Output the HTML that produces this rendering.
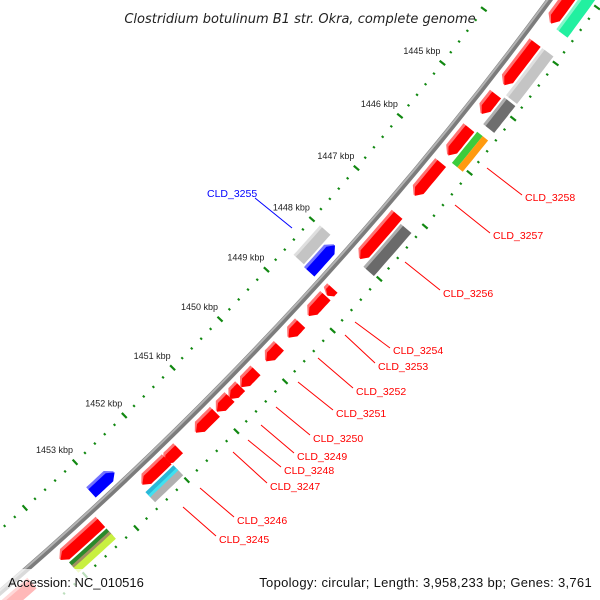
<!DOCTYPE html>
<html><head><meta charset="utf-8"><style>
html,body{margin:0;padding:0;background:#fff;overflow:hidden;}
svg{display:block;font-family:"Liberation Sans",sans-serif;}
</style></head><body>
<svg id="map" width="600" height="600" viewBox="0 0 600 600" xmlns="http://www.w3.org/2000/svg">
<g id="ticks"></g>
<g id="backbone"></g>
<g id="features"></g>
<g id="labels"></g>
<rect x="0" y="569" width="600" height="31" fill="rgba(255,255,255,0.72)"/>
<text x="300" y="23" text-anchor="middle" font-size="13" font-style="italic" fill="#222" style="font-family:'DejaVu Sans',sans-serif">Clostridium botulinum B1 str. Okra, complete genome</text>
<text x="8" y="587" font-size="13" fill="#111">Accession: NC_010516</text>
<text x="592" y="587" text-anchor="end" font-size="13" fill="#111" letter-spacing="0.3">Topology: circular; Length: 3,958,233 bp; Genes: 3,761</text>
</svg>
<script>
const CX=-2312, CY=-2103, R=3551;
const A0=38.18, K0=1445, DPK=1.11;
const tickKbp=[1445,1446,1447,1448,1449,1450,1451,1452,1453];
const tickLabels=["1445 kbp","1446 kbp","1447 kbp","1448 kbp","1449 kbp","1450 kbp","1451 kbp","1452 kbp","1453 kbp"];
const featStart=[1442.9,1443.94,1444.88,1445.5,1446.15,1447.13,1448.55,1448.7,1449.24,1449.69,1450.18,1450.5,1450.72,1451.02,1451.77,1452.0,1453.32,1454.65,
 1442.9,1443.94,1444.84,1445.47,1445.47,1447.2,1451.99,1451.99,1451.99,1453.32,1453.32,1453.32,
 1447.99,1448.06,1452.68];
const featEnd=[1443.58,1444.7,1445.23,1446.0,1446.76,1447.97,1448.68,1449.08,1449.51,1449.98,1450.5,1450.74,1451.0,1451.43,1452.07,1452.51,1454.12,1455.5,
 1443.6,1444.8,1445.33,1446.05,1446.05,1448.02,1452.55,1452.55,1452.55,1454.05,1454.05,1454.05,
 1448.57,1448.6,1453.13];
const featRing=["outA","outA","outA","outA","outA","outA","outA","outA","outA","outA","outA","outA","outA","outA","outA","outA","outA","outA",
 "outB","outB","outB","outB1","outB2","outB","outB1","outBm","outB2","outB1","outBm","outB2",
 "inB","inA","inA"];
const featStrand=[1,1,1,1,1,1,1,1,1,1,1,1,1,1,1,1,1,1, 0,0,0,0,0,0,0,0,0,0,0,0, 0,-1,-1];
const featColor=["#ff0000","#ff0000","#ff0000","#ff0000","#ff0000","#ff0000","#ff0000","#ff0000","#ff0000","#ff0000","#ff0000","#ff0000","#ff0000","#ff0000","#ff0000","#ff0000","#ff0000","#ff0000",
 "#22f0a0","#c4c4c4","#6e6e6e","#3ccc3c","#ff9a10","#6a6a6a","#2ab8d8","#40e0f0","#b0b0b0","#2a8a2a","#a09060","#c8f040",
 "#c4c4c4","#0000ff","#0000ff"];
const ringR={inA:[R-21,R-7],inB:[R-37,R-23],outA:[R+7,R+21],outB:[R+23,R+37],outB1:[R+23,R+30],outB2:[R+30,R+37],outBm:[R+27,R+33]};
const NS="http://www.w3.org/2000/svg";
function ang(k){return (A0+(k-K0)*DPK)*Math.PI/180;}
function pt(a,r){return [CX+r*Math.cos(a),CY+r*Math.sin(a)];}
function mk(tag,attrs,parent){const e=document.createElementNS(NS,tag);for(const k in attrs)e.setAttribute(k,attrs[k]);parent.appendChild(e);return e;}
function lighten(c){const n=parseInt(c.slice(1),16);let r=n>>16,g=(n>>8)&255,b=n&255;r=Math.round(r+(255-r)*0.45);g=Math.round(g+(255-g)*0.45);b=Math.round(b+(255-b)*0.45);return "rgb("+r+","+g+","+b+")";}
const tg=document.getElementById('ticks');
const rings=[R-47,R+43];
for(let i=0;i<=70;i++){
  const k=1442+i*0.2; const a=ang(k);
  const major=Math.abs(k-Math.round(k))<0.01;
  rings.forEach(rr=>{
    const h=major?3.5:1.2;
    const p1=pt(a,rr-h),p2=pt(a,rr+h);
    const l=mk('line',{x1:p1[0],y1:p1[1],x2:p2[0],y2:p2[1],stroke:'#118811','stroke-width':major?2.2:2},tg);
    
    
  });
}
tickKbp.forEach((k,i)=>{
  const p=pt(ang(k),R-47);
  const t=mk('text',{x:p[0]-2,y:p[1]-9,'text-anchor':'end','font-size':'9',fill:'#222'},tg);
  t.textContent=tickLabels[i];
  
  
});
const bg=document.getElementById('backbone');
function arcPath(r,a1,a2){const p1=pt(a1,r),p2=pt(a2,r);return "M"+p1[0]+","+p1[1]+" A"+r+","+r+" 0 0 1 "+p2[0]+","+p2[1];}
const bb=mk('path',{d:arcPath(R,ang(1442),ang(1456)),stroke:'#7c7c7c','stroke-width':6,fill:'none'},bg);


const bb2=mk('path',{d:arcPath(R-1.5,ang(1442),ang(1456)),stroke:'#b4b4b4','stroke-width':2,fill:'none'},bg);


const fg=document.getElementById('features');
function featPoly(s,e,r1,r2,strand){
  const a1=ang(s),a2=ang(e);const al=Math.min(7/R,(a2-a1)*0.45);const rm=(r1+r2)/2;const N=8;const pts=[];
  if(strand===1){
    for(let j=0;j<=N;j++){pts.push(pt(a1+(a2-al-a1)*j/N,r2));}
    pts.push(pt(a2,rm));
    for(let j=N;j>=0;j--){pts.push(pt(a1+(a2-al-a1)*j/N,r1));}
  }else if(strand===-1){
    pts.push(pt(a1,rm));
    for(let j=0;j<=N;j++){pts.push(pt(a1+al+(a2-a1-al)*j/N,r2));}
    for(let j=N;j>=0;j--){pts.push(pt(a1+al+(a2-a1-al)*j/N,r1));}
  }else{
    for(let j=0;j<=N;j++){pts.push(pt(a1+(a2-a1)*j/N,r2));}
    for(let j=N;j>=0;j--){pts.push(pt(a1+(a2-a1)*j/N,r1));}
  }
  return pts.map(p=>p[0].toFixed(1)+","+p[1].toFixed(1)).join(" ");
}
featStart.forEach((s,i)=>{
  const rr=ringR[featRing[i]];
  const full=(featRing[i]==="outA"||featRing[i]==="outB"||featRing[i]==="inA"||featRing[i]==="inB");
  if(full){
    const sh=mk('polygon',{points:featPoly(s,featEnd[i],rr[0],rr[1],featStrand[i]),fill:lighten(featColor[i])},fg);
    
    
    const p=mk('polygon',{points:featPoly(s,featEnd[i],rr[0]+3,rr[1],featStrand[i]),fill:featColor[i]},fg);
    
    
  }else{
    const p=mk('polygon',{points:featPoly(s,featEnd[i],rr[0],rr[1],featStrand[i]),fill:featColor[i]},fg);
    
    
  }
});
const lg=document.getElementById('labels');
const lblText=["CLD_3258","CLD_3257","CLD_3256","CLD_3254","CLD_3253","CLD_3252","CLD_3251","CLD_3250","CLD_3249","CLD_3248","CLD_3247","CLD_3246","CLD_3245","CLD_3255"];
const lblLine=[[487,168,522,195],[455,205,490,233],[405,262,440,290],[355,322,390,348],[345,335,375,363],[318,358,353,388],[298,382,333,410],[276,407,310,435],[261,425,294,453],[248,440,281,467],[233,452,267,483],[200,488,234,517],[183,507,216,536],[292,228,255,198]];
const lblPos=[[525,201],[493,239],[443,297],[393,354],[378,370],[356,395],[336,417],[313,442],[297,460],[284,474],[270,490],[237,524],[219,543],[207,197]];
lblText.forEach((t,i)=>{
  const c=i===13?'#0000ff':'#ff0000';
  const L=lblLine[i];
  const l=mk('line',{x1:L[0],y1:L[1],x2:L[2],y2:L[3],stroke:c,'stroke-width':1},lg);
  
  
  const tx=mk('text',{x:lblPos[i][0],y:lblPos[i][1],'font-size':'10.5',fill:c},lg);
  tx.textContent=t;
  
  
});
</script>
</body></html>
